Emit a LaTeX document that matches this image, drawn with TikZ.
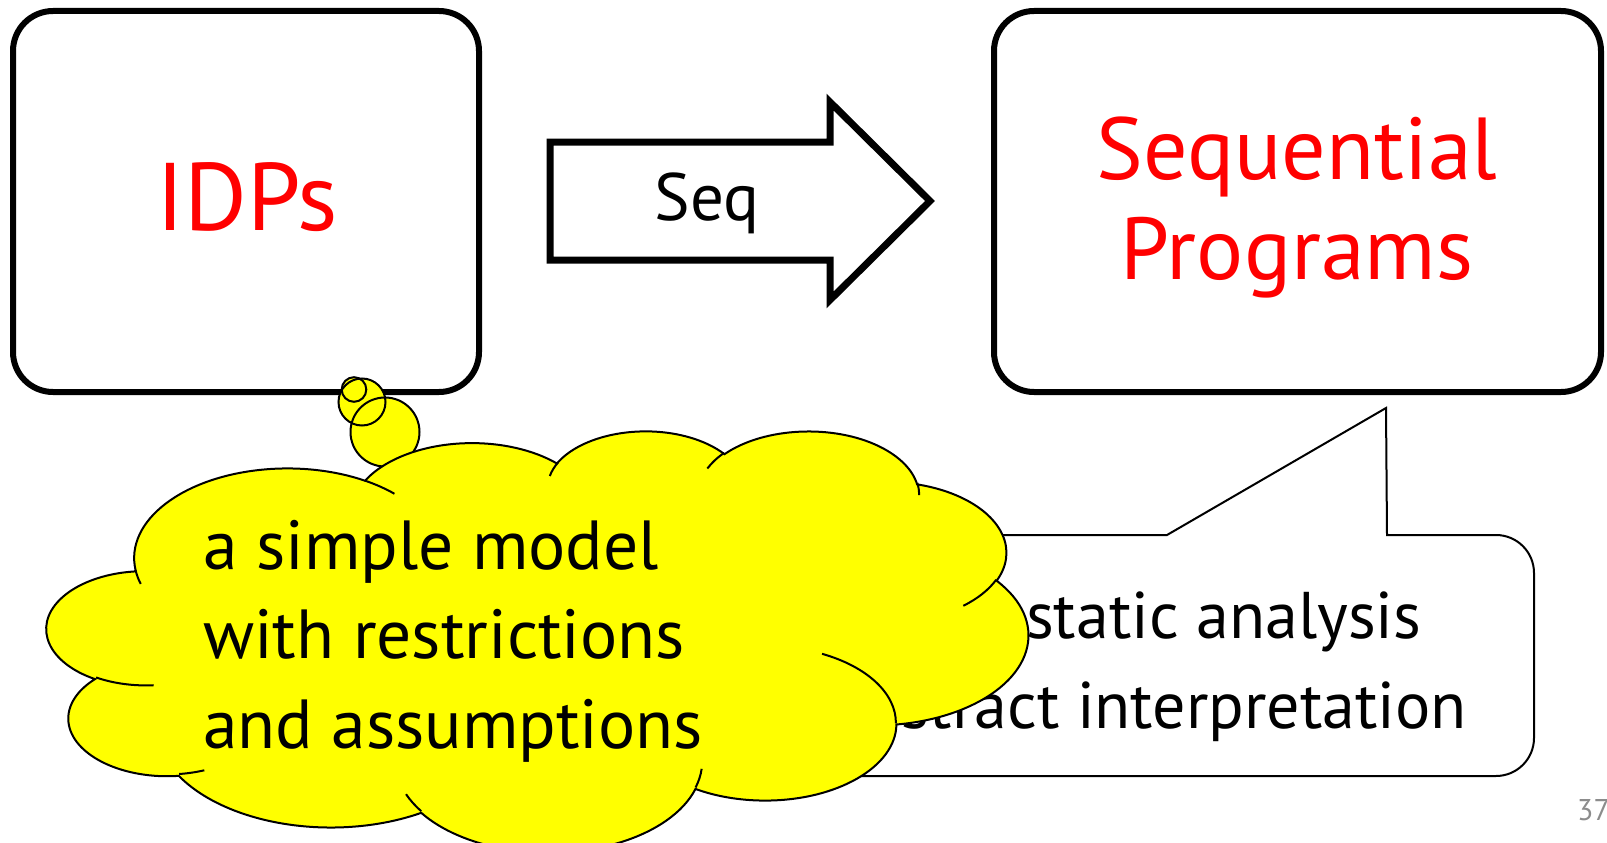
\documentclass[tikz,border=0pt]{standalone}
\usepackage{fontspec}
\setmainfont{PT Sans}
\definecolor{cloudyellow}{RGB}{255,255,0}
\definecolor{pagegray}{RGB}{140,140,140}
\definecolor{titlered}{RGB}{255,0,0}
% arc of an OOXML-style ellipse: name, wR, hR, start angle (visual), swing
\newcommand\mkarc[5]{%
  \pgfmathsetmacro\cldA{atan2((#2)*sin(#4),(#3)*cos(#4))}%
  \pgfmathsetmacro\cldB{atan2((#2)*sin((#4)+(#5)),(#3)*cos((#4)+(#5)))}%
  \pgfmathsetmacro\cldD{\cldB-\cldA}%
  \ifdim #5pt>0pt
    \ifdim \cldD pt<0pt \pgfmathsetmacro\cldD{\cldD+360}\fi
  \else
    \ifdim \cldD pt>0pt \pgfmathsetmacro\cldD{\cldD-360}\fi
  \fi
  \pgfmathsetmacro\cldB{\cldA+\cldD}%
  \expandafter\xdef\csname #1\endcsname{arc[start angle=\cldA, end angle=\cldB, x radius=#2, y radius=#3]}%
}
\mkarc{CAa}{675.3}{919.0}{-190.48748}{123.78053}
\mkarc{CAb}{533.3}{726.7}{-144.10238}{89.94523}
\mkarc{CAc}{436.5}{594.5}{-145.80792}{99.72302}
\mkarc{CAd}{485.7}{659.5}{-130.98607}{117.24173}
\mkarc{CAe}{533.3}{727.3}{-78.70888}{109.02692}
\mkarc{CAf}{677.5}{922.0}{-46.26725}{130.269}
\mkarc{CAg}{578.5}{786.7}{0.62502}{114.03333}
\mkarc{CAh}{675.2}{921.5}{22.4516}{115.17255}
\mkarc{CAi}{772.0}{1054.3}{66.24263}{75.71102}
\mkarc{CAj}{436.0}{591.8}{-274.94208}{146.73557}
\mkarc{CAk}{434.5}{594.5}{-246.8285}{152.51885}
\mkarc{CIa}{434.5}{594.5}{86.742}{26.4295}
\mkarc{CIb}{436.0}{591.8}{73.61047}{11.44747}
\mkarc{CIc}{675.2}{921.5}{137.62415}{14.0811}
\mkarc{CId}{675.2}{921.5}{6.45327}{15.99835}
\mkarc{CIe}{578.5}{786.7}{-70.29235}{70.91737}
\mkarc{CIf}{533.3}{727.3}{30.31803}{27.7515}
\mkarc{CIg}{485.7}{659.5}{-13.74433}{14.8589}
\mkarc{CIh}{485.7}{659.5}{-149.18145}{18.19537}
\mkarc{CIi}{436.5}{594.5}{-163.49427}{17.68635}
\mkarc{CIj}{675.3}{919.0}{-66.70695}{12.31935}
\mkarc{CIk}{675.3}{919.0}{157.65435}{11.85817}
\tikzset{
  bigbox/.style={draw=black, line width=6pt, rounded corners=40pt, minimum width=466pt, minimum height=381pt, inner sep=0pt},
  blockarrow/.style={draw=black, line width=7pt, line join=miter, fill=white},
  calloutshape/.style={draw=black, line width=2pt, fill=white, line join=miter},
  cloudfill/.style={fill=cloudyellow},
  cloudline/.style={draw=black, line width=2pt},
  txt/.style={inner sep=0pt, anchor=base},
  redbig/.style={txt, text=titlered, font=\fontsize{96}{100}\selectfont},
  seqtxt/.style={txt, font=\fontsize{67}{70}\selectfont},
  bodytxt/.style={inner sep=0pt, font=\fontsize{66}{80}\selectfont},
  cloudtxt/.style={inner sep=0pt, anchor=base west, font=\fontsize{69.5}{80}\selectfont},
  pagenum/.style={inner sep=0pt, anchor=base west, text=pagegray, font=\fontsize{30}{36}\selectfont},
}
\begin{document}
\begin{tikzpicture}[x=1pt,y=-1pt]
\useasboundingbox (0,0) rectangle (1607,843);
% top boxes
\node[bigbox] (idpbox) at (246,201.5) {};
\node[redbig] (idp) at (247,230) {IDPs};
\node[bigbox, minimum width=607pt] (seqbox) at (1297.5,201.5) {};
\node[redbig, font=\fontsize{88}{100}\selectfont] (seqline1) at (1297,179) {Sequential};
\node[redbig, font=\fontsize{88}{100}\selectfont] (seqline2) at (1297,279) {Programs};
% block arrow
\draw[blockarrow] (550,142) -- (830,142) -- (830,102) -- (930,201) -- (830,300) -- (830,260) -- (550,260) -- cycle;
\node[seqtxt] (seq) at (707,220) {Seq};
% speech callout
\draw[calloutshape] (1167,535) -- (1386,408) -- (1387,535) -- (1496,535)
  .. controls (1517,535) and (1534,552) .. (1534,573) -- (1534,738)
  .. controls (1534,759) and (1517,776) .. (1496,776) -- (818,776)
  .. controls (797,776) and (780,759) .. (780,738) -- (780,573)
  .. controls (780,552) and (797,535) .. (818,535) -- cycle;
\node[bodytxt, anchor=base west] (static) at (1026,638) {static analysis};
\node[bodytxt, anchor=base east] (abstract) at (1467,728) {abstract interpretation};
% thought bubbles
\fill[cloudfill] (385,432) circle[radius=34.5];
\fill[cloudfill] (362,402) circle[radius=23.5];
\fill[cloudfill] (354,389.5) circle[radius=12.3];
\draw[cloudline] (385,432) circle[radius=34.5];
\draw[cloudline] (362,402) circle[radius=23.5];
\draw[cloudline] (354,389.5) circle[radius=12.3];
% cloud
\begin{scope}[shift={(47,430)}, x={(0.2271pt,0pt)}, y={(0pt,-0.0975pt)}]
\path[cloudfill, cloudline] (390,1437) \CAa \CAb \CAc \CAd \CAe \CAf \CAg \CAh \CAi \CAj \CAk -- cycle;
\draw[cloudline] (469.3,2617.7) \CIa (692.8,3489.9) \CIb (1647.8,3909.0) \CIc
  (2882.7,3475.1) \CId (3412.9,2295.4) \CIe (4179.8,1535.4) \CIf
  (3832.4,542.6) \CIg (2907.8,395.2) \CIh (2214.1,472.0) \CIi
  (1400.0,519.2) \CIj (412.7,1578.9) \CIk;
\end{scope}
\node[cloudtxt] (cl1) at (203,569) {a simple model};
\node[cloudtxt] (cl2) at (203,658) {with restrictions};
\node[cloudtxt] (cl3) at (203,748) {and assumptions};
\node[pagenum] (page) at (1577,820) {37};
\end{tikzpicture}
\end{document}
